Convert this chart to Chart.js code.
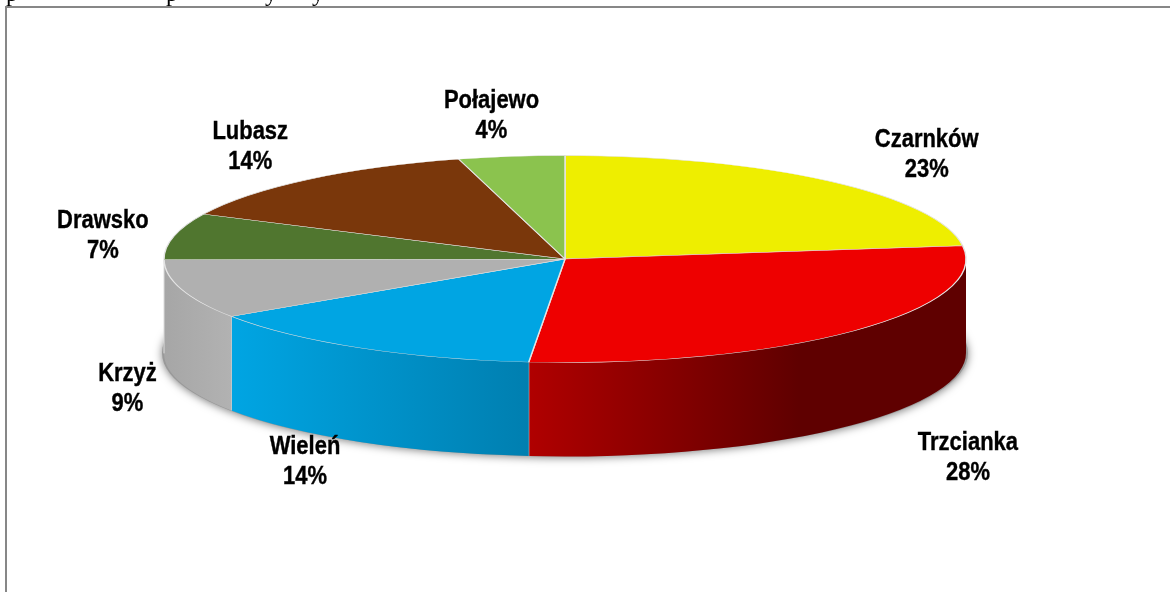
<!DOCTYPE html>
<html>
<head>
<meta charset="utf-8">
<style>
  html, body { margin: 0; padding: 0; background: #fff; overflow: hidden; }
  canvas { display: block; }
</style>
<script src="https://cdn.jsdelivr.net/npm/chart.js@4"></script>
</head>
<body>
<canvas id="pie" width="1170" height="592"></canvas>
<script>
var gminy = ['Czarnków', 'Trzcianka', 'Wieleń', 'Krzyż', 'Drawsko', 'Lubasz', 'Połajewo'];
var udzial = [22.95, 28.49, 14.2, 9.3, 7.2, 13.6, 4.26];

var topColors = ['#eeee00', '#ee0000', '#00a5e3', '#b0b0b0', '#50762f', '#7a370b', '#8bc34e'];
// wall gradient per slice, left end then right end
var wallColors = [
  null,
  ['#b00000', '#5f0000'],
  ['#00a5e3', '#007fb0'],
  ['#a6a6a6', '#b2b2b2'],
  null, null, null
];
// label shift from the slice's rim point, in px
var labelShift = [[97,-26],[114,33],[-55,20],[-54,6],[-71,0],[-58,-33],[-20,-41]];

var SQUASH = 103.5 / 401;
var DEPTH = 94;
var FONT = 'bold 26px "Liberation Sans", Arial, sans-serif';
var NARROW = 0.845; // labels are a condensed Arial in the original

function squashTransform(ctx, a){
  ctx.translate(a.x, a.y);
  ctx.scale(1, SQUASH);
  ctx.translate(-a.x, -a.y);
}

// soft shadow under the bottom rim of the disc
function drawShadow(ctx, a){
  var r = a.outerRadius;
  ctx.save();
  ctx.shadowColor = 'rgba(0,0,0,.5)';
  ctx.shadowBlur = 8;
  ctx.shadowOffsetY = 1;
  ctx.fillStyle = '#999';
  ctx.beginPath();
  ctx.ellipse(a.x, a.y + DEPTH, r + 2, r * SQUASH, 0, 0, Math.PI * 2);
  ctx.fill();
  ctx.restore();
}

// extruded rim, only the front half of the ellipse can be seen
function drawWall(ctx, a, i){
  var from = Math.max(a.startAngle, 0);
  var to = Math.min(a.endAngle, Math.PI);
  if (to <= from || !wallColors[i]) return;
  var r = a.outerRadius, ry = r * SQUASH;
  ctx.beginPath();
  ctx.ellipse(a.x, a.y, r, ry, 0, from, to);
  ctx.ellipse(a.x, a.y + DEPTH, r, ry, 0, to, from, true);
  ctx.closePath();
  var x1 = a.x + r * Math.cos(to), x2 = a.x + r * Math.cos(from);
  var g = ctx.createLinearGradient(x1, 0, i === 1 ? x1 + 270 : x2, 0);
  g.addColorStop(0, wallColors[i][0]);
  g.addColorStop(1, wallColors[i][1]);
  ctx.fillStyle = g;
  ctx.fill();
  ctx.strokeStyle = '#dcdcdc';
  ctx.lineWidth = 1;
  ctx.beginPath();
  ctx.moveTo(x1, a.y + ry * Math.sin(to));
  ctx.lineTo(x1, a.y + ry * Math.sin(to) + DEPTH);
  ctx.stroke();
}

function drawLine(ctx, text, x, y){
  ctx.save();
  ctx.translate(x, y);
  ctx.scale(NARROW, 1);
  ctx.fillText(text, 0, 0);
  ctx.strokeText(text, 0, 0);
  ctx.restore();
}

var pie3d = {
  id: 'pie3d',
  beforeDatasetsDraw: function(chart){
    var ctx = chart.ctx, arcs = chart.getDatasetMeta(0).data;
    ctx.save();
    drawShadow(ctx, arcs[0]);
    arcs.forEach(function(a, i){ drawWall(ctx, a, i); });
    ctx.restore();
    ctx.save();
    squashTransform(ctx, arcs[0]);
  },
  afterDatasetsDraw: function(chart){
    var ctx = chart.ctx, arcs = chart.getDatasetMeta(0).data;
    ctx.restore();
    ctx.save();
    ctx.font = FONT;
    ctx.fillStyle = '#000';
    ctx.strokeStyle = '#000';
    ctx.lineWidth = 0.4;
    ctx.textAlign = 'center';
    ctx.textBaseline = 'middle';
    arcs.forEach(function(a, i){
      var mid = (a.startAngle + a.endAngle) / 2;
      var s = Math.sin(mid);
      var px = a.x + a.outerRadius * Math.cos(mid);
      var py = a.y + a.outerRadius * SQUASH * s + (s > 0 ? DEPTH : 0);
      var lx = px + labelShift[i][0], ly = py + labelShift[i][1];
      drawLine(ctx, gminy[i], lx, ly - 15);
      drawLine(ctx, Math.round(udzial[i]) + '%', lx, ly + 15);
    });
    ctx.restore();
  },
  afterDraw: function(chart){
    var ctx = chart.ctx;
    ctx.save();
    // frame of the pasted chart, with the descenders of the cut off text line above it
    ctx.strokeStyle = '#878787';
    ctx.lineWidth = 2;
    ctx.beginPath();
    ctx.moveTo(6, 592);
    ctx.lineTo(6, 7);
    ctx.lineTo(1170, 7);
    ctx.stroke();
    ctx.font = '24px "Liberation Serif", serif';
    ctx.fillStyle = '#000';
    ctx.textBaseline = 'alphabetic';
    ctx.fillText('p', 6, 1);
    ctx.fillText('p', 166, 1);
    ctx.fillText('y', 265, 1);
    ctx.fillText('y', 312, 1);
    ctx.restore();
  }
};

new Chart(document.getElementById('pie'), {
  type: 'pie',
  data: {
    labels: gminy,
    datasets: [{
      data: udzial,
      backgroundColor: topColors,
      borderColor: '#e4e4e4',
      borderWidth: 1.5,
      radius: 401,
      clip: false
    }]
  },
  options: {
    responsive: false,
    animation: false,
    // centre of the pie sits at 565,259
    layout: { padding: { left: 0, right: 40, top: 0, bottom: 74 } },
    plugins: { legend: { display: false }, tooltip: { enabled: false } }
  },
  plugins: [pie3d]
});
</script>
</body>
</html>
